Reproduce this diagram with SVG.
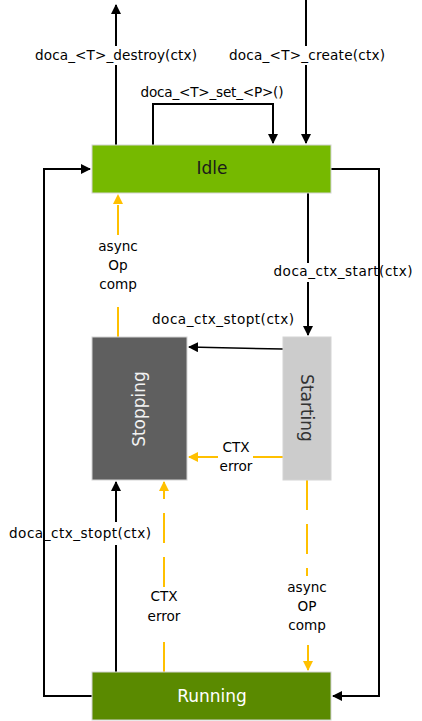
<svg xmlns="http://www.w3.org/2000/svg" width="422" height="721" viewBox="0 0 422 721">
<defs>
<marker id="ab" markerWidth="10" markerHeight="10" refX="9" refY="5" orient="auto" markerUnits="userSpaceOnUse"><path d="M0,0 L10,5 L0,10 Z" fill="#000"/></marker>
<marker id="ay" markerWidth="10" markerHeight="10" refX="9" refY="5" orient="auto" markerUnits="userSpaceOnUse"><path d="M0,0 L10,5 L0,10 Z" fill="#ffc000"/></marker>
<style>
.lbl{font-family:"DejaVu Sans",sans-serif;font-size:13.6px;fill:#000;text-anchor:middle}
.nt{font-family:"DejaVu Sans",sans-serif;font-size:17px;text-anchor:middle;dominant-baseline:central}
.k{stroke:#000;stroke-width:2;fill:none}
.y{stroke:#ffc000;stroke-width:2;fill:none;stroke-dasharray:30 14}
.box{stroke:#d4d4d4;stroke-width:1}
</style>
</defs>
<rect width="422" height="721" fill="#fff"/>
<g id="connectors">
<path class="k" d="M116 145 V65 M116 46 V5" marker-end="url(#ab)"/>
<path class="k" d="M306 0 V46 M306 65 V143" marker-end="url(#ab)"/>
<path class="k" d="M153 145 V104 H273 V143" marker-end="url(#ab)"/>
<path class="k" d="M92 696 H44 V169 H90" marker-end="url(#ab)"/>
<path class="k" d="M331 169 H379 V696 H333" marker-end="url(#ab)"/>
<path class="k" d="M308 193 V263 M308 282 V335" marker-end="url(#ab)"/>
<path class="k" style="stroke-width:1.5" d="M283 349 L189 347" marker-end="url(#ab)"/>
<path class="k" d="M116 672 V545 M116 522 V482" marker-end="url(#ab)"/>
<path class="y" d="M118 337 V306 M118 235 V195" marker-end="url(#ay)"/>
<path class="y" d="M283 457 H253 M218 457 H189" marker-end="url(#ay)"/>
<path class="y" d="M164 672 V641 M164 587 V482" marker-end="url(#ay)"/>
<path class="y" d="M307 480 V576 M308 645 V670" marker-end="url(#ay)"/>
<text class="lbl" x="116" y="60" textLength="162">doca_&lt;T&gt;_destroy(ctx)</text>
<text class="lbl" x="307" y="60" textLength="156">doca_&lt;T&gt;_create(ctx)</text>
<text class="lbl" x="212" y="97" textLength="143">doca_&lt;T&gt;_set_&lt;P&gt;()</text>
<text class="lbl" x="343" y="276" textLength="139">doca_ctx_start(ctx)</text>
<text class="lbl" x="223" y="324" textLength="142">doca_ctx_stopt(ctx)</text>
<text class="lbl" x="118" y="251">async</text>
<text class="lbl" x="118" y="270">Op</text>
<text class="lbl" x="118" y="289">comp</text>
<text class="lbl" x="236" y="452">CTX</text>
<text class="lbl" x="236" y="471">error</text>
<text class="lbl" x="80" y="538" textLength="142">doca_ctx_stopt(ctx)</text>
<text class="lbl" x="164" y="601">CTX</text>
<text class="lbl" x="164" y="621">error</text>
<text class="lbl" x="307" y="592">async</text>
<text class="lbl" x="307" y="611">OP</text>
<text class="lbl" x="307" y="630">comp</text>
</g>
<g id="idle">
<rect class="box" x="92" y="145" width="239" height="48" fill="#76b900"/>
<text class="nt" x="212" y="168" fill="#1a1a1a">Idle</text>
</g>
<g id="stopping">
<rect class="box" x="92" y="337" width="95" height="143" fill="#5f5f5f"/>
<text class="nt" x="0" y="0" fill="#f2f2f2" transform="translate(139 409) rotate(-90)">Stopping</text>
</g>
<g id="starting">
<rect class="box" x="283" y="337" width="48" height="143" fill="#cccccc"/>
<text class="nt" x="0" y="0" fill="#333" transform="translate(307 408) rotate(90)">Starting</text>
</g>
<g id="running">
<rect class="box" x="92" y="672" width="239" height="48" fill="#5a8a00"/>
<text class="nt" x="212" y="696" fill="#fff">Running</text>
</g>
</svg>
